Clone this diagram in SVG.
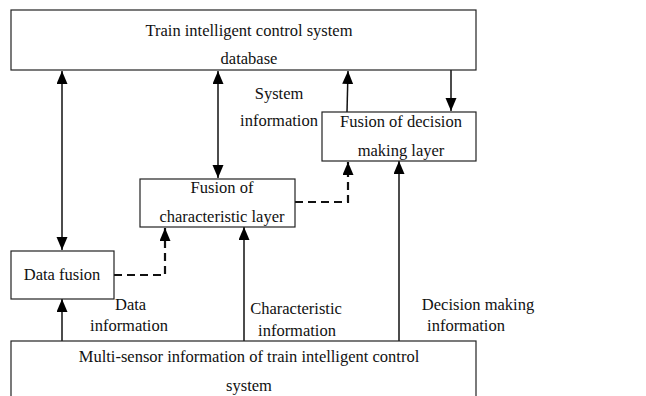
<svg xmlns="http://www.w3.org/2000/svg" width="646" height="396" viewBox="0 0 646 396">
<defs>
<marker id="ah" markerUnits="userSpaceOnUse" markerWidth="14" markerHeight="12" refX="13" refY="5.5" orient="auto-start-reverse">
<path d="M0,0 L13,5.5 L0,11 z" fill="#000" stroke="none"/>
</marker>
</defs>
<style>
.box{fill:#fff;stroke:#222;stroke-width:1.2}
.t{font-family:"Liberation Serif","Times New Roman",serif;font-size:16.5px;fill:#111}
.c{text-anchor:middle}
.ln{fill:none;stroke:#111;stroke-width:1.5}
.ds{fill:none;stroke:#111;stroke-width:2.2;stroke-dasharray:8,5}
</style>
<rect width="646" height="396" fill="#fff"/>
<g id="connectors">
<line class="ln" x1="62" y1="71" x2="62" y2="250" marker-start="url(#ah)" marker-end="url(#ah)"/>
<line class="ln" x1="218" y1="71" x2="218" y2="178" marker-start="url(#ah)" marker-end="url(#ah)"/>
<line class="ln" x1="347" y1="112" x2="348" y2="71" marker-end="url(#ah)"/>
<line class="ln" x1="451" y1="70" x2="451" y2="111" marker-end="url(#ah)"/>
<line class="ln" x1="399" y1="341" x2="399" y2="161" marker-end="url(#ah)"/>
<line class="ln" x1="244" y1="341" x2="244" y2="227" marker-end="url(#ah)"/>
<line class="ln" x1="62" y1="341" x2="62" y2="299" marker-end="url(#ah)"/>
<polyline class="ds" points="295,202 348,202 348,162" marker-end="url(#ah)"/>
<polyline class="ds" points="114,275 165,275 165,228" marker-end="url(#ah)"/>
</g>
<g id="database">
<rect class="box" x="11" y="10" width="465" height="60"/>
<text class="t c" x="249" y="36">Train intelligent control system</text>
<text class="t c" x="249" y="64">database</text>
</g>
<g id="decision">
<rect class="box" x="322" y="112" width="154" height="49"/>
<text class="t c" x="401" y="127">Fusion of decision</text>
<text class="t c" x="401" y="156">making layer</text>
</g>
<g id="characteristic">
<rect class="box" x="140" y="179" width="155" height="48"/>
<text class="t c" x="222" y="193">Fusion of</text>
<text class="t c" x="222" y="222">characteristic layer</text>
</g>
<g id="datafusion">
<rect class="box" x="11" y="251" width="103" height="48"/>
<text class="t c" x="62" y="280">Data fusion</text>
</g>
<g id="multisensor">
<rect class="box" x="11" y="341" width="465" height="70"/>
<text class="t c" x="249" y="362">Multi-sensor information of train intelligent control</text>
<text class="t c" x="249" y="391">system</text>
</g>
<g id="labels">
<text class="t c" x="279" y="99">System</text>
<text class="t c" x="279" y="126">information</text>
<text class="t" x="115" y="310">Data</text>
<text class="t c" x="129" y="331">information</text>
<text class="t c" x="296" y="314">Characteristic</text>
<text class="t c" x="297" y="336">information</text>
<text class="t c" x="478" y="310">Decision making</text>
<text class="t c" x="466" y="331">information</text>
</g>
</svg>
